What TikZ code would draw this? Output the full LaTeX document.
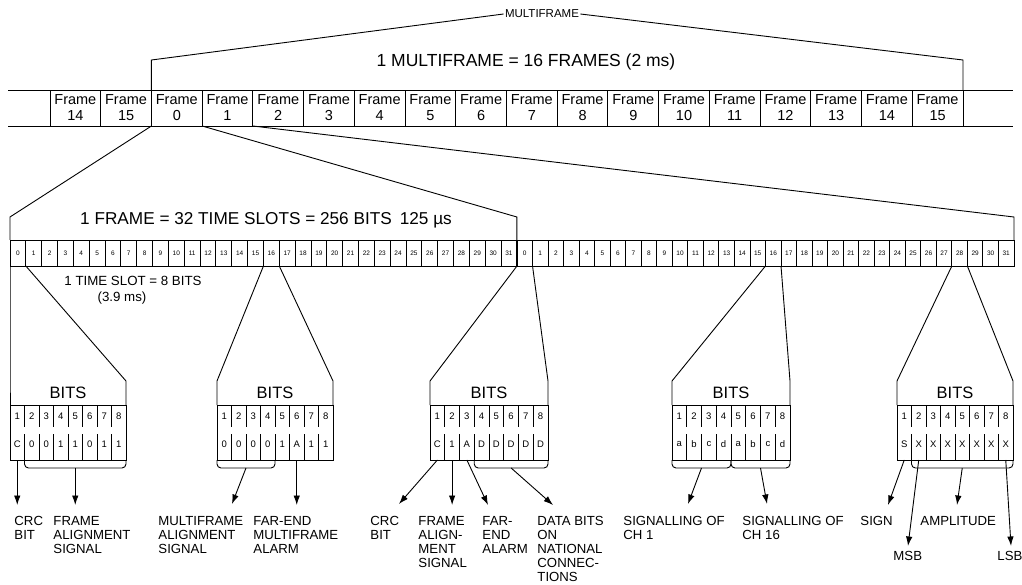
\documentclass[tikz,border=0pt]{standalone}
\usepackage{fontspec}
\setmainfont{Liberation Sans}
\usetikzlibrary{arrows.meta,calc}
\newcommand{\mybitgroup}[5]{%
  \pgfmathsetmacro\cw{#3/8}
  \node[bitbox,minimum width=#3pt] (#1) at (#2,405) {};
  \node[bitslbl] (#1l) at ({#2+#3/2},393) {BITS};
  \foreach \v [count=\k] in {#4} {
    \node[bitnum,minimum width=\cw pt] (#1t\k) at ({#2+\cw*(\k-0.5)},416) {\k};
    \node[bitnum,minimum width=\cw pt] (#1v\k) at ({#2+\cw*(\k-0.5)},444) {\v};
  }
  \foreach \k in {1,...,7} {
    \draw ({#2+\cw*\k},405) -- ({#2+\cw*\k},427);
    \draw ({#2+\cw*\k},434) -- ({#2+\cw*\k},460);
  }
  \draw (#5.south west) -- (#1.north west |- gc) -- (#1.north west);
  \draw (#5.south east) -- (#1.north east |- gc) -- (#1.north east);
}
\begin{document}
\begin{tikzpicture}[x=1pt,y=-1pt,line width=0.9pt,
  txt/.style={inner sep=0pt,outer sep=0pt},
  framecell/.style={draw,outer sep=0pt,minimum width=50.72pt,minimum height=36pt,inner sep=0pt,align=center,font=\fontsize{14.5}{16}\selectfont},
  tscell/.style={draw,outer sep=0pt,minimum height=26pt,inner sep=0pt,font=\fontsize{6.5}{6.5}\selectfont},
  bitbox/.style={draw,outer sep=0pt,minimum height=55pt,inner sep=0pt,anchor=north west},
  bitnum/.style={inner sep=0pt,outer sep=0pt,minimum height=10pt,font=\fontsize{9.5}{9.5}\selectfont},
  bitslbl/.style={inner sep=0pt,font=\fontsize{16.5}{16.5}\selectfont},
  lbl/.style={inner sep=0pt,anchor=north west,align=left,font=\fontsize{13.2}{14}\selectfont},
  arr/.style={-{Latex[length=9.5pt,width=6.5pt]}},
  brace/.style={rounded corners=4pt}]
\useasboundingbox (0,0) rectangle (1022,585);
\coordinate (mfc) at (0,60);
\coordinate (fc) at (0,217);
\coordinate (gc) at (0,381);
\coordinate (bb) at (0,468);
\coordinate (ae) at (0,505);

% ---------- frame row ----------
\draw (8,90) -- (1013,90);
\draw (8,126) -- (1013,126);
\foreach \n [count=\k from 0] in {14,15,0,1,2,3,4,5,6,7,8,9,10,11,12,13,14,15} {
  \node[framecell] (fr\k) at ({50+50.72*(\k+0.5)},108) {Frame\\\n};
}
\node[txt,inner xsep=1.5pt,font=\fontsize{11.5}{11.5}\selectfont] (mf) at (542,14) {MULTIFRAME};
\draw (fr2.north west) -- (fr2.north west |- mfc) -- (mf.west);
\draw (fr17.north east) -- (fr17.north east |- mfc) -- (mf.east);
\node[txt,font=\fontsize{17.5}{17.5}\selectfont] (mft) at (526,62) {1 MULTIFRAME = 16 FRAMES (2 ms)};

% ---------- time slot row ----------
\foreach \i in {0,...,31} {
  \node[tscell,minimum width=15.84pt] (ts\i) at ({10+15.84*(\i+0.5)},253) {\i};
}
\foreach \i in {0,...,31} {
  \pgfmathtruncatemacro\j{\i+32}
  \node[tscell,minimum width=15.53pt] (ts\j) at ({517+15.53*(\i+0.5)},253) {\i};
}
\draw (fr2.south west) -- (ts0.north west |- fc) -- (ts0.north west);
\draw (fr2.south east) -- (ts31.north east |- fc) -- (ts31.north east);
\draw (fr3.south east) -- (ts63.north east |- fc) -- (ts63.north east);
\node[txt,font=\fontsize{17.2}{17.2}\selectfont] (ft) at (266,220) {1 FRAME = 32 TIME SLOTS = 256 BITS\hspace{8pt}125 µs};
\node[txt,font=\fontsize{13.3}{13.3}\selectfont] (tst) at (133,281) {1 TIME SLOT = 8 BITS};
\node[txt,font=\fontsize{13.3}{13.3}\selectfont] (tsm) at (122,298) {(3.9 ms)};

% ---------- bit groups ----------
\mybitgroup{ga}{10}{116}{C,0,0,1,1,0,1,1}{ts0}
\mybitgroup{gb}{217}{116}{0,0,0,0,1,A,1,1}{ts16}
\mybitgroup{gcc}{430}{118}{C,1,A,D,D,D,D,D}{ts32}
\mybitgroup{gd}{672}{118}{a,b,c,d,a,b,c,d}{ts48}
\mybitgroup{ge}{897}{116}{S,X,X,X,X,X,X,X}{ts60}

% ---------- group 1 ----------
\draw[arr] (gav1 |- ga.south) -- (gav1 |- ae);
\draw[brace] (gav2.west |- ga.south) -- (gav2.west |- bb) -- (gav8.east |- bb) -- (gav8.east |- ga.south);
\coordinate (gam) at ($(gav2.west |- bb)!0.5!(gav8.east |- bb)$);
\draw[arr] (gam) -- (gam |- ae);
\node[lbl] (la1) at (14,516) {CRC\\BIT};
\node[lbl] (la2) at (53,516) {FRAME\\ALIGNMENT\\SIGNAL};

% ---------- group 2 ----------
\draw[brace] (gbv1.west |- gb.south) -- (gbv1.west |- bb) -- (gbv4.east |- bb) -- (gbv4.east |- gb.south);
\coordinate (gbm) at ($(gbv1.west |- bb)!0.5!(gbv4.east |- bb)$);
\coordinate (eb1) at (232,504);
\draw[arr] (gbm) -- (eb1);
\draw[arr] (gbv6 |- gb.south) -- (gbv6 |- ae);
\node[lbl] (lb1) at (158,516) {MULTIFRAME\\ALIGNMENT\\SIGNAL};
\node[lbl] (lb2) at (253,516) {FAR-END\\MULTIFRAME\\ALARM};

% ---------- group 3 ----------
\coordinate (ec1) at (399,504);
\coordinate (ec3) at (488,505);
\coordinate (ec4) at (553,505);
\draw[arr] (gccv1 |- gcc.south) -- (ec1);
\draw[arr] (gccv2 |- gcc.south) -- (gccv2 |- ae);
\draw[arr] (gccv3 |- gcc.south) -- (ec3);
\draw[brace] (gccv4.west |- gcc.south) -- (gccv4.west |- bb) -- (gccv8.east |- bb) -- (gccv8.east |- gcc.south);
\coordinate (gccm) at ($(gccv4.west |- bb)!0.5!(gccv8.east |- bb)$);
\draw[arr] (gccm) -- (ec4);
\node[lbl] (lc1) at (370,516) {CRC\\BIT};
\node[lbl] (lc2) at (418,516) {FRAME\\ALIGN-\\MENT\\SIGNAL};
\node[lbl] (lc3) at (482,516) {FAR-\\END\\ALARM};
\node[lbl] (lc4) at (537,516) {DATA BITS\\ON\\NATIONAL\\CONNEC-\\TIONS};

% ---------- group 4 ----------
\draw[brace] (gdv1.west |- gd.south) -- (gdv1.west |- bb) -- (gdv4.east |- bb) -- (gdv4.east |- gd.south);
\draw[brace] (gdv5.west |- gd.south) -- (gdv5.west |- bb) -- (gdv8.east |- bb) -- (gdv8.east |- gd.south);
\coordinate (gdm1) at ($(gdv1.west |- bb)!0.5!(gdv4.east |- bb)$);
\coordinate (gdm2) at ($(gdv5.west |- bb)!0.5!(gdv8.east |- bb)$);
\coordinate (ed1) at (688,504);
\coordinate (ed2) at (767,504);
\draw[arr] (gdm1) -- (ed1);
\draw[arr] (gdm2) -- (ed2);
\node[lbl] (ld1) at (623,516) {SIGNALLING OF\\CH 1};
\node[lbl] (ld2) at (742,516) {SIGNALLING OF\\CH 16};

% ---------- group 5 ----------
\coordinate (ee1) at (888,505);
\coordinate (ee2) at (908,546);
\coordinate (ee3) at (957,505);
\coordinate (ee4) at (1011,546);
\draw[arr] (gev1 |- ge.south) -- (ee1);
\draw[brace] (gev2.west |- ge.south) -- (gev2.west |- bb) -- (gev8.east |- bb) -- (gev8.east |- ge.south);
\coordinate (gem) at ($(gev2.west |- bb)!0.5!(gev8.east |- bb)$);
\draw[arr] (gem) -- (ee3);
\draw[arr] (gev2 |- ge.south) -- (ee2);
\draw[arr] (gev8 |- ge.south) -- (ee4);
\node[lbl] (le1) at (860,516) {SIGN};
\node[lbl] (le2) at (920,516) {AMPLITUDE};
\node[lbl] (le3) at (893,551) {MSB};
\node[lbl] (le4) at (997,551) {LSB};
\end{tikzpicture}
\end{document}
